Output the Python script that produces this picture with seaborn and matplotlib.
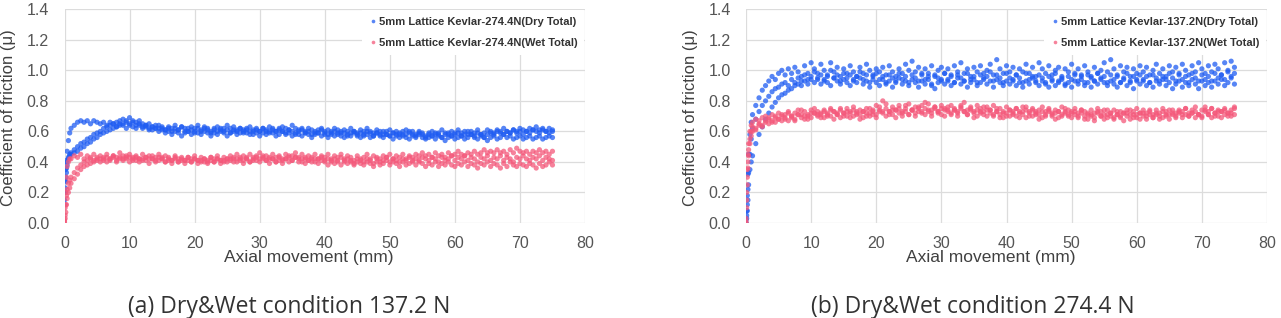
import numpy as np
import pandas as pd
import seaborn as sns
import matplotlib.pyplot as plt
from matplotlib.transforms import Bbox

# axial movement sample positions (mm), shared by every run
X_MM = [0, 0.1, 0.2, 0.3, 0.4, 0.6, 0.8,
        1.0, 1.5, 2.0, 2.5, 3.0, 3.5, 4.0, 4.5, 5.0, 5.5,
        6.0, 6.5, 7.0, 7.5, 8.0, 8.5, 9.0, 9.5, 10.0, 10.5,
        11.0, 11.5, 12.0, 12.5, 13.0, 13.5, 14.0, 14.5, 15.0, 15.5,
        16.0, 16.5, 17.0, 17.5, 18.0, 18.5, 19.0, 19.5, 20.0, 20.5,
        21.0, 21.5, 22.0, 22.5, 23.0, 23.5, 24.0, 24.5, 25.0, 25.5,
        26.0, 26.5, 27.0, 27.5, 28.0, 28.5, 29.0, 29.5, 30.0, 30.5,
        31.0, 31.5, 32.0, 32.5, 33.0, 33.5, 34.0, 34.5, 35.0, 35.5,
        36.0, 36.5, 37.0, 37.5, 38.0, 38.5, 39.0, 39.5, 40.0, 40.5,
        41.0, 41.5, 42.0, 42.5, 43.0, 43.5, 44.0, 44.5, 45.0, 45.5,
        46.0, 46.5, 47.0, 47.5, 48.0, 48.5, 49.0, 49.5, 50.0, 50.5,
        51.0, 51.5, 52.0, 52.5, 53.0, 53.5, 54.0, 54.5, 55.0, 55.5,
        56.0, 56.5, 57.0, 57.5, 58.0, 58.5, 59.0, 59.5, 60.0, 60.5,
        61.0, 61.5, 62.0, 62.5, 63.0, 63.5, 64.0, 64.5, 65.0, 65.5,
        66.0, 66.5, 67.0, 67.5, 68.0, 68.5, 69.0, 69.5, 70.0, 70.5,
        71.0, 71.5, 72.0, 72.5, 73.0, 73.5, 74.0, 74.5, 75.0]

# ---- panel (a): 274.4 N ----
dry_274_run1 = [0.20, 0.28, 0.35, 0.41, 0.47, 0.54, 0.59,
    0.62, 0.64, 0.66, 0.67, 0.66, 0.67, 0.65, 0.67, 0.66, 0.65,
    0.66, 0.64, 0.66, 0.65, 0.63, 0.65, 0.64, 0.62, 0.64, 0.63,
    0.62, 0.64, 0.62, 0.63, 0.61, 0.63, 0.62, 0.64, 0.62, 0.61,
    0.63, 0.62, 0.64, 0.61, 0.63, 0.62, 0.60, 0.63, 0.62, 0.64,
    0.61, 0.63, 0.62, 0.60, 0.62, 0.63, 0.61, 0.62, 0.64, 0.62,
    0.63, 0.61, 0.62, 0.60, 0.62, 0.63, 0.61, 0.62, 0.60, 0.62,
    0.61, 0.63, 0.62, 0.60, 0.61, 0.63, 0.62, 0.61, 0.64, 0.62,
    0.61, 0.62, 0.60, 0.62, 0.61, 0.59, 0.61, 0.62, 0.60, 0.61,
    0.60, 0.62, 0.61, 0.59, 0.61, 0.60, 0.62, 0.60, 0.59, 0.61,
    0.60, 0.62, 0.60, 0.59, 0.61, 0.60, 0.58, 0.60, 0.61, 0.59,
    0.60, 0.58, 0.60, 0.61, 0.59, 0.60, 0.58, 0.60, 0.59, 0.57,
    0.59, 0.60, 0.58, 0.59, 0.61, 0.59, 0.58, 0.60, 0.59, 0.61,
    0.59, 0.60, 0.58, 0.60, 0.59, 0.61, 0.58, 0.59, 0.61, 0.60,
    0.59, 0.61, 0.60, 0.62, 0.60, 0.59, 0.61, 0.60, 0.62, 0.61,
    0.60, 0.62, 0.61, 0.63, 0.61, 0.62, 0.60, 0.62, 0.61]
dry_274_run2 = [0.15, 0.23, 0.30, 0.36, 0.40, 0.43, 0.45,
    0.46, 0.48, 0.50, 0.52, 0.53, 0.55, 0.56, 0.58, 0.59, 0.60,
    0.62, 0.63, 0.64, 0.65, 0.66, 0.67, 0.68, 0.67, 0.69, 0.67,
    0.66, 0.67, 0.65, 0.64, 0.65, 0.63, 0.64, 0.62, 0.63, 0.61,
    0.62, 0.60, 0.62, 0.61, 0.63, 0.60, 0.62, 0.61, 0.59, 0.62,
    0.60, 0.62, 0.61, 0.59, 0.61, 0.60, 0.62, 0.60, 0.61, 0.59,
    0.61, 0.60, 0.62, 0.59, 0.61, 0.60, 0.58, 0.61, 0.60, 0.62,
    0.60, 0.59, 0.61, 0.60, 0.62, 0.60, 0.59, 0.61, 0.60, 0.58,
    0.60, 0.61, 0.59, 0.60, 0.58, 0.60, 0.59, 0.61, 0.59, 0.58,
    0.59, 0.60, 0.58, 0.60, 0.59, 0.57, 0.59, 0.60, 0.58, 0.59,
    0.58, 0.60, 0.59, 0.57, 0.59, 0.58, 0.60, 0.58, 0.57, 0.59,
    0.58, 0.59, 0.57, 0.58, 0.60, 0.58, 0.57, 0.59, 0.58, 0.56,
    0.58, 0.57, 0.59, 0.58, 0.56, 0.58, 0.59, 0.57, 0.58, 0.59,
    0.57, 0.58, 0.60, 0.58, 0.57, 0.59, 0.58, 0.56, 0.58, 0.59,
    0.58, 0.60, 0.59, 0.58, 0.60, 0.59, 0.61, 0.59, 0.60, 0.58,
    0.60, 0.59, 0.61, 0.60, 0.59, 0.61, 0.60, 0.59, 0.60]
dry_274_run3 = [0.12, 0.20, 0.27, 0.33, 0.38, 0.42, 0.44,
    0.45, 0.46, 0.47, 0.49, 0.50, 0.52, 0.53, 0.55, 0.56, 0.58,
    0.59, 0.60, 0.61, 0.62, 0.63, 0.64, 0.65, 0.66, 0.65, 0.66,
    0.64, 0.65, 0.63, 0.64, 0.62, 0.61, 0.62, 0.60, 0.61, 0.59,
    0.60, 0.58, 0.60, 0.59, 0.57, 0.59, 0.60, 0.58, 0.60, 0.59,
    0.58, 0.60, 0.59, 0.57, 0.59, 0.58, 0.60, 0.59, 0.57, 0.59,
    0.60, 0.58, 0.59, 0.61, 0.59, 0.58, 0.60, 0.59, 0.57, 0.59,
    0.58, 0.60, 0.59, 0.57, 0.58, 0.60, 0.58, 0.59, 0.57, 0.59,
    0.58, 0.57, 0.59, 0.58, 0.56, 0.58, 0.59, 0.57, 0.58, 0.56,
    0.58, 0.57, 0.59, 0.57, 0.56, 0.58, 0.57, 0.59, 0.57, 0.56,
    0.57, 0.58, 0.56, 0.57, 0.59, 0.57, 0.56, 0.58, 0.57, 0.55,
    0.57, 0.56, 0.58, 0.56, 0.55, 0.57, 0.56, 0.58, 0.56, 0.55,
    0.56, 0.57, 0.55, 0.57, 0.56, 0.54, 0.56, 0.57, 0.55, 0.56,
    0.57, 0.55, 0.56, 0.58, 0.56, 0.55, 0.57, 0.56, 0.54, 0.56,
    0.57, 0.55, 0.56, 0.58, 0.56, 0.57, 0.55, 0.56, 0.57, 0.55,
    0.56, 0.57, 0.55, 0.56, 0.57, 0.55, 0.56, 0.57, 0.56]
wet_274_run1 = [0.02, 0.10, 0.20, 0.30, 0.37, 0.40, 0.42,
    0.42, 0.44, 0.43, 0.45, 0.42, 0.44, 0.43, 0.45, 0.42, 0.44,
    0.43, 0.45, 0.42, 0.44, 0.43, 0.46, 0.44, 0.42, 0.45, 0.43,
    0.44, 0.42, 0.45, 0.43, 0.44, 0.42, 0.43, 0.45, 0.42, 0.44,
    0.43, 0.41, 0.44, 0.42, 0.43, 0.41, 0.43, 0.42, 0.44, 0.41,
    0.43, 0.42, 0.40, 0.43, 0.42, 0.44, 0.41, 0.43, 0.42, 0.44,
    0.43, 0.45, 0.42, 0.44, 0.43, 0.45, 0.42, 0.44, 0.46, 0.43,
    0.44, 0.42, 0.45, 0.43, 0.44, 0.42, 0.45, 0.43, 0.44, 0.46,
    0.43, 0.45, 0.42, 0.44, 0.43, 0.45, 0.42, 0.44, 0.43, 0.45,
    0.42, 0.44, 0.43, 0.45, 0.42, 0.44, 0.43, 0.41, 0.44, 0.42,
    0.43, 0.45, 0.42, 0.44, 0.43, 0.42, 0.44, 0.43, 0.45, 0.42,
    0.44, 0.43, 0.45, 0.42, 0.44, 0.43, 0.45, 0.44, 0.46, 0.44,
    0.45, 0.43, 0.46, 0.44, 0.45, 0.43, 0.46, 0.44, 0.45, 0.47,
    0.45, 0.44, 0.46, 0.45, 0.47, 0.45, 0.46, 0.48, 0.46, 0.47,
    0.46, 0.48, 0.46, 0.47, 0.45, 0.48, 0.46, 0.49, 0.47, 0.46,
    0.47, 0.45, 0.47, 0.46, 0.48, 0.46, 0.47, 0.45, 0.47]
wet_274_run2 = [0.00, 0.05, 0.12, 0.18, 0.22, 0.26, 0.28,
    0.30, 0.33, 0.36, 0.38, 0.40, 0.41, 0.42, 0.41, 0.43, 0.42,
    0.41, 0.43, 0.42, 0.44, 0.41, 0.43, 0.42, 0.44, 0.43, 0.41,
    0.43, 0.42, 0.41, 0.43, 0.42, 0.44, 0.41, 0.43, 0.42, 0.40,
    0.42, 0.41, 0.43, 0.40, 0.42, 0.41, 0.43, 0.40, 0.42, 0.41,
    0.40, 0.42, 0.41, 0.43, 0.40, 0.42, 0.41, 0.40, 0.42, 0.41,
    0.42, 0.40, 0.43, 0.41, 0.42, 0.40, 0.43, 0.41, 0.42, 0.44,
    0.41, 0.43, 0.42, 0.40, 0.43, 0.41, 0.42, 0.44, 0.41, 0.43,
    0.42, 0.40, 0.43, 0.41, 0.42, 0.40, 0.42, 0.43, 0.41, 0.42,
    0.40, 0.42, 0.41, 0.43, 0.40, 0.42, 0.41, 0.39, 0.42, 0.41,
    0.40, 0.42, 0.41, 0.39, 0.42, 0.40, 0.41, 0.43, 0.40, 0.42,
    0.41, 0.40, 0.42, 0.41, 0.43, 0.40, 0.42, 0.41, 0.43, 0.42,
    0.41, 0.43, 0.42, 0.40, 0.43, 0.41, 0.42, 0.44, 0.41, 0.43,
    0.42, 0.44, 0.41, 0.43, 0.42, 0.40, 0.43, 0.42, 0.44, 0.41,
    0.43, 0.42, 0.44, 0.41, 0.43, 0.42, 0.40, 0.43, 0.42, 0.44,
    0.42, 0.41, 0.43, 0.42, 0.44, 0.41, 0.43, 0.42, 0.41]
wet_274_run3 = [0.01, 0.03, 0.07, 0.12, 0.16, 0.20, 0.23,
    0.26, 0.29, 0.32, 0.35, 0.37, 0.38, 0.39, 0.40, 0.41, 0.40,
    0.42, 0.40, 0.41, 0.43, 0.40, 0.42, 0.41, 0.43, 0.40, 0.42,
    0.41, 0.40, 0.42, 0.41, 0.39, 0.42, 0.40, 0.41, 0.43, 0.40,
    0.41, 0.39, 0.42, 0.40, 0.41, 0.39, 0.41, 0.40, 0.42, 0.39,
    0.41, 0.40, 0.39, 0.41, 0.40, 0.42, 0.39, 0.41, 0.40, 0.42,
    0.40, 0.42, 0.41, 0.39, 0.42, 0.40, 0.41, 0.43, 0.40, 0.42,
    0.41, 0.39, 0.42, 0.40, 0.41, 0.39, 0.42, 0.40, 0.41, 0.43,
    0.40, 0.42, 0.39, 0.41, 0.40, 0.42, 0.39, 0.41, 0.40, 0.38,
    0.41, 0.39, 0.40, 0.38, 0.41, 0.39, 0.40, 0.38, 0.40, 0.39,
    0.38, 0.40, 0.39, 0.37, 0.40, 0.38, 0.39, 0.41, 0.38, 0.40,
    0.39, 0.37, 0.40, 0.38, 0.39, 0.41, 0.38, 0.40, 0.39, 0.37,
    0.39, 0.38, 0.40, 0.37, 0.39, 0.38, 0.40, 0.38, 0.37, 0.39,
    0.38, 0.40, 0.37, 0.39, 0.38, 0.36, 0.39, 0.38, 0.40, 0.37,
    0.39, 0.38, 0.36, 0.39, 0.37, 0.40, 0.38, 0.37, 0.39, 0.38,
    0.37, 0.39, 0.38, 0.36, 0.39, 0.37, 0.38, 0.40, 0.38]

# ---- panel (b): 137.2 N ----
dry_137_run1 = [0.02, 0.08, 0.18, 0.32, 0.45, 0.58, 0.66,
    0.71, 0.77, 0.82, 0.87, 0.90, 0.93, 0.96, 0.94, 0.98, 1.00,
    0.97, 1.01, 0.98, 1.02, 0.99, 0.96, 1.03, 0.98, 1.05, 1.01,
    0.98, 1.04, 1.00, 0.97, 1.05, 0.99, 1.02, 0.96, 1.01, 0.98,
    1.03, 0.99, 0.96, 1.02, 0.98, 1.04, 1.00, 0.97, 1.01, 0.99,
    1.02, 0.97, 1.03, 0.99, 0.96, 1.01, 0.98, 1.04, 1.00, 1.06,
    0.99, 1.02, 0.97, 1.01, 0.98, 1.03, 0.96, 1.00, 1.02, 0.98,
    1.01, 0.97, 1.03, 0.99, 1.05, 0.98, 1.01, 0.96, 1.02, 0.99,
    1.03, 0.98, 1.00, 1.04, 0.97, 1.07, 1.01, 0.98, 1.03, 0.99,
    1.02, 0.97, 1.01, 0.99, 1.04, 0.98, 1.02, 0.96, 1.05, 1.01,
    0.98, 1.03, 0.97, 1.00, 1.02, 0.96, 1.01, 0.99, 1.04, 0.98,
    1.01, 0.97, 1.03, 0.99, 0.96, 1.02, 0.98, 1.00, 1.05, 0.99,
    1.07, 1.01, 0.97, 1.03, 0.99, 1.02, 0.96, 1.01, 0.98, 1.03,
    0.99, 1.02, 0.97, 1.00, 1.04, 0.98, 1.01, 0.96, 1.03, 0.99,
    1.02, 0.98, 1.04, 1.00, 0.97, 1.03, 0.99, 1.05, 1.01, 0.98,
    1.03, 0.99, 1.04, 1.01, 0.97, 1.05, 1.00, 1.06, 1.02]
dry_137_run2 = [0.00, 0.05, 0.12, 0.22, 0.33, 0.45, 0.55,
    0.62, 0.68, 0.73, 0.77, 0.80, 0.83, 0.86, 0.88, 0.89, 0.91,
    0.92, 0.90, 0.94, 0.92, 0.95, 0.93, 0.97, 0.94, 0.96, 0.99,
    0.94, 0.97, 0.93, 0.96, 1.00, 0.95, 0.97, 0.93, 0.98, 0.95,
    0.97, 0.93, 0.96, 0.99, 0.94, 0.97, 0.92, 0.96, 0.98, 0.94,
    0.96, 0.92, 0.97, 0.95, 0.93, 0.98, 0.94, 0.96, 0.92, 0.97,
    0.95, 0.93, 0.98, 0.94, 0.96, 0.91, 0.97, 0.95, 0.93, 0.98,
    0.94, 0.96, 0.92, 0.97, 0.95, 0.93, 0.98, 0.94, 0.96, 0.92,
    0.97, 0.94, 0.96, 0.99, 0.93, 0.97, 0.95, 0.92, 0.98, 0.95,
    0.93, 0.97, 0.95, 0.92, 0.98, 0.94, 0.96, 0.93, 0.97, 0.95,
    0.92, 0.96, 0.94, 0.98, 0.93, 0.95, 0.91, 0.96, 0.94, 0.97,
    0.93, 0.96, 0.92, 0.97, 0.95, 0.93, 0.98, 0.94, 0.96, 0.92,
    0.97, 0.94, 0.96, 0.92, 0.95, 0.98, 0.93, 0.96, 0.94, 0.97,
    0.93, 0.96, 0.92, 0.97, 0.95, 0.93, 0.96, 0.94, 0.98, 0.95,
    0.93, 0.97, 0.94, 0.96, 0.92, 0.98, 0.95, 0.93, 0.97, 0.94,
    0.96, 0.93, 0.98, 0.95, 0.97, 0.94, 0.99, 0.96, 0.98]
dry_137_run3 = [0.00, 0.03, 0.08, 0.15, 0.25, 0.35, 0.40,
    0.44, 0.52, 0.58, 0.63, 0.68, 0.72, 0.76, 0.79, 0.82, 0.84,
    0.85, 0.87, 0.88, 0.90, 0.91, 0.90, 0.93, 0.91, 0.94, 0.92,
    0.95, 0.91, 0.94, 0.92, 0.90, 0.95, 0.93, 0.91, 0.94, 0.92,
    0.90, 0.94, 0.92, 0.95, 0.91, 0.93, 0.89, 0.94, 0.92, 0.90,
    0.94, 0.91, 0.93, 0.89, 0.92, 0.95, 0.91, 0.93, 0.90, 0.94,
    0.92, 0.89, 0.93, 0.91, 0.94, 0.90, 0.88, 0.92, 0.94, 0.91,
    0.93, 0.90, 0.92, 0.95, 0.91, 0.93, 0.89, 0.92, 0.94, 0.90,
    0.92, 0.95, 0.91, 0.93, 0.89, 0.94, 0.92, 0.90, 0.93, 0.91,
    0.94, 0.90, 0.92, 0.89, 0.93, 0.91, 0.95, 0.92, 0.90, 0.93,
    0.91, 0.89, 0.93, 0.90, 0.92, 0.94, 0.90, 0.92, 0.89, 0.93,
    0.91, 0.94, 0.90, 0.92, 0.89, 0.93, 0.91, 0.95, 0.92, 0.90,
    0.93, 0.91, 0.89, 0.92, 0.94, 0.90, 0.92, 0.88, 0.93, 0.91,
    0.94, 0.90, 0.92, 0.89, 0.93, 0.91, 0.94, 0.90, 0.92, 0.88,
    0.91, 0.93, 0.89, 0.92, 0.90, 0.94, 0.91, 0.88, 0.93, 0.90,
    0.92, 0.89, 0.93, 0.91, 0.94, 0.90, 0.92, 0.95, 0.91]
wet_137_run1 = [0.00, 0.20, 0.35, 0.45, 0.52, 0.60, 0.64,
    0.66, 0.68, 0.67, 0.69, 0.70, 0.68, 0.71, 0.69, 0.72, 0.70,
    0.71, 0.73, 0.70, 0.72, 0.74, 0.71, 0.73, 0.70, 0.74, 0.72,
    0.73, 0.71, 0.74, 0.72, 0.75, 0.73, 0.71, 0.74, 0.72, 0.75,
    0.73, 0.76, 0.72, 0.74, 0.73, 0.75, 0.72, 0.74, 0.77, 0.73,
    0.80, 0.75, 0.73, 0.76, 0.74, 0.77, 0.73, 0.75, 0.78, 0.74,
    0.76, 0.73, 0.77, 0.75, 0.78, 0.74, 0.76, 0.73, 0.77, 0.75,
    0.74, 0.77, 0.75, 0.73, 0.76, 0.79, 0.74, 0.76, 0.73, 0.77,
    0.75, 0.73, 0.76, 0.74, 0.77, 0.73, 0.75, 0.72, 0.76, 0.74,
    0.73, 0.75, 0.72, 0.76, 0.74, 0.73, 0.75, 0.72, 0.74, 0.76,
    0.73, 0.75, 0.72, 0.74, 0.73, 0.76, 0.72, 0.74, 0.73, 0.75,
    0.72, 0.74, 0.73, 0.71, 0.74, 0.72, 0.75, 0.73, 0.71, 0.74,
    0.72, 0.74, 0.71, 0.73, 0.72, 0.74, 0.71, 0.73, 0.75, 0.72,
    0.74, 0.72, 0.73, 0.71, 0.74, 0.72, 0.75, 0.73, 0.71, 0.74,
    0.72, 0.74, 0.73, 0.75, 0.72, 0.74, 0.73, 0.71, 0.74, 0.76,
    0.73, 0.75, 0.72, 0.74, 0.73, 0.75, 0.72, 0.74, 0.76]
wet_137_run2 = [0.01, 0.10, 0.25, 0.36, 0.44, 0.52, 0.57,
    0.60, 0.62, 0.64, 0.63, 0.66, 0.65, 0.67, 0.66, 0.68, 0.67,
    0.69, 0.67, 0.70, 0.68, 0.71, 0.69, 0.68, 0.71, 0.69, 0.72,
    0.70, 0.72, 0.69, 0.71, 0.70, 0.73, 0.71, 0.69, 0.72, 0.70,
    0.72, 0.70, 0.73, 0.71, 0.69, 0.72, 0.70, 0.73, 0.71, 0.74,
    0.72, 0.70, 0.73, 0.71, 0.74, 0.72, 0.70, 0.73, 0.71, 0.74,
    0.72, 0.75, 0.73, 0.71, 0.74, 0.72, 0.75, 0.73, 0.71, 0.74,
    0.73, 0.71, 0.74, 0.72, 0.75, 0.73, 0.71, 0.74, 0.72, 0.70,
    0.73, 0.71, 0.74, 0.72, 0.70, 0.73, 0.71, 0.69, 0.72, 0.70,
    0.72, 0.70, 0.73, 0.71, 0.69, 0.72, 0.70, 0.73, 0.71, 0.69,
    0.71, 0.73, 0.70, 0.72, 0.69, 0.71, 0.73, 0.70, 0.72, 0.71,
    0.69, 0.72, 0.70, 0.68, 0.71, 0.69, 0.72, 0.70, 0.68, 0.71,
    0.70, 0.68, 0.71, 0.69, 0.72, 0.70, 0.68, 0.71, 0.69, 0.72,
    0.70, 0.68, 0.71, 0.69, 0.72, 0.70, 0.69, 0.71, 0.68, 0.72,
    0.70, 0.72, 0.69, 0.71, 0.70, 0.72, 0.69, 0.71, 0.70, 0.73,
    0.71, 0.69, 0.72, 0.70, 0.73, 0.71, 0.70, 0.72, 0.71]
wet_137_run3 = [0.03, 0.15, 0.30, 0.40, 0.48, 0.55, 0.60,
    0.63, 0.61, 0.65, 0.64, 0.67, 0.69, 0.66, 0.70, 0.68, 0.71,
    0.68, 0.72, 0.69, 0.67, 0.71, 0.74, 0.70, 0.68, 0.72, 0.75,
    0.71, 0.69, 0.73, 0.70, 0.74, 0.68, 0.72, 0.75, 0.70, 0.73,
    0.69, 0.74, 0.71, 0.68, 0.73, 0.70, 0.75, 0.71, 0.69, 0.76,
    0.73, 0.78, 0.71, 0.74, 0.69, 0.75, 0.72, 0.77, 0.71, 0.74,
    0.70, 0.76, 0.72, 0.79, 0.73, 0.70, 0.76, 0.72, 0.75, 0.70,
    0.76, 0.72, 0.74, 0.70, 0.77, 0.73, 0.71, 0.75, 0.69, 0.74,
    0.72, 0.76, 0.70, 0.74, 0.71, 0.75, 0.69, 0.73, 0.70, 0.74,
    0.71, 0.75, 0.69, 0.73, 0.76, 0.70, 0.74, 0.71, 0.68, 0.73,
    0.70, 0.74, 0.71, 0.68, 0.73, 0.70, 0.75, 0.71, 0.69, 0.73,
    0.70, 0.74, 0.68, 0.72, 0.70, 0.67, 0.73, 0.70, 0.74, 0.69,
    0.72, 0.69, 0.73, 0.70, 0.67, 0.72, 0.74, 0.69, 0.71, 0.68,
    0.72, 0.70, 0.74, 0.69, 0.71, 0.68, 0.73, 0.70, 0.74, 0.71,
    0.69, 0.73, 0.71, 0.75, 0.70, 0.72, 0.76, 0.71, 0.69, 0.74,
    0.71, 0.75, 0.70, 0.73, 0.69, 0.74, 0.72, 0.70, 0.75]

DRY_COLOR = '#1f5cf2'
WET_COLOR = '#f4587a'


def build_df(label_dry, label_wet, dry_runs, wet_runs):
    frames = []
    for label, runs in [(label_dry, dry_runs), (label_wet, wet_runs)]:
        for i, vals in enumerate(runs):
            frames.append(pd.DataFrame({'Axial movement (mm)': X_MM, 'mu': vals,
                                        'series': label, 'run': i}))
    return pd.concat(frames, ignore_index=True)


df_274 = build_df('5mm Lattice Kevlar-274.4N(Dry Total)', '5mm Lattice Kevlar-274.4N(Wet Total)',
                  [dry_274_run1, dry_274_run2, dry_274_run3],
                  [wet_274_run1, wet_274_run2, wet_274_run3])
df_137 = build_df('5mm Lattice Kevlar-137.2N(Dry Total)', '5mm Lattice Kevlar-137.2N(Wet Total)',
                  [dry_137_run1, dry_137_run2, dry_137_run3],
                  [wet_137_run1, wet_137_run2, wet_137_run3])

sns.set_style('whitegrid', {'grid.color': '#dcdcdc', 'axes.edgecolor': 'none'})
plt.rcParams['font.family'] = ['Liberation Sans', 'DejaVu Sans']

W, H = 1281, 318
fig = plt.figure(figsize=(W / 100, H / 100), dpi=100)
ax_a = fig.add_axes([64.5 / W, 1 - 223 / H, 520.5 / W, 213.7 / H])
ax_b = fig.add_axes([746 / W, 1 - 223 / H, 521 / W, 213.7 / H])

for ax, df in [(ax_a, df_274), (ax_b, df_137)]:
    labels = df['series'].unique()
    pal = {labels[0]: DRY_COLOR, labels[1]: WET_COLOR}
    sns.scatterplot(ax=ax, data=df, x='Axial movement (mm)', y='mu', hue='series',
                    palette=pal, s=14, linewidth=0, alpha=0.75, marker='o', clip_on=True)
    ax.set_xlim(0, 80)
    ax.set_ylim(0, 1.4)
    ax.set_xticks(range(0, 81, 10))
    ax.set_yticks([0.0, 0.2, 0.4, 0.6, 0.8, 1.0, 1.2, 1.4])
    ax.set_yticklabels([f'{v:.1f}' for v in ax.get_yticks()])
    ax.tick_params(axis='both', length=0, labelsize=11.5, colors='#555555')
    ax.tick_params(axis='y', pad=11)
    ax.tick_params(axis='x', pad=9)
    ax.grid(True, color='#dcdcdc', linewidth=0.9)
    ax.set_ylabel('')
    ax.set_xlabel('Axial movement (mm)', fontsize=12.5, color='#404040')
    ax.xaxis.set_label_coords(0.47, -0.125)
    for sp in ax.spines.values():
        sp.set_visible(False)
    handles, hlabels = ax.get_legend_handles_labels()
    leg = ax.legend(handles, hlabels, loc='upper right', bbox_to_anchor=(1.0, 1.0),
                    frameon=True, facecolor='white', edgecolor='none', framealpha=1,
                    fancybox=False, prop={'size': 8, 'weight': 'bold'},
                    handletextpad=0.1, handlelength=0.8, labelspacing=1.0,
                    borderpad=0.6, borderaxespad=0.1, markerscale=0.7)
    for t in leg.get_texts():
        t.set_color('#333333')

# y-axis titles, hugging the left edge of each panel
for x_px in [9, 690]:
    fig.text(x_px / W, 1 - 118 / H, 'Coefficient of friction (μ)', rotation=90,
             ha='center', va='center', fontsize=12, color='#404040')

cap_kw = dict(ha='center', va='baseline', fontsize=16.5, color='#333333',
              family=['Open Sans', 'DejaVu Sans'])
fig.text(289 / W, 5 / H, '(a) Dry&Wet condition 137.2 N', **cap_kw)
fig.text(973 / W, 5 / H, '(b) Dry&Wet condition 274.4 N', **cap_kw)

fig.savefig('out.png', dpi=100)
